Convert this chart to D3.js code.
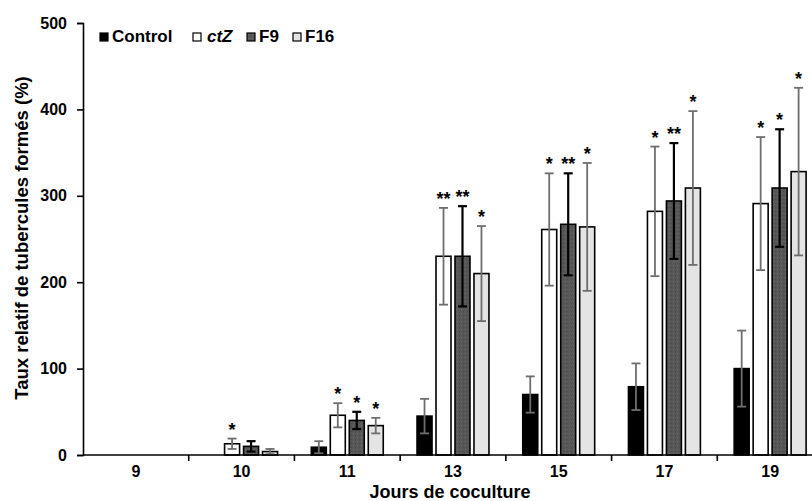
<!DOCTYPE html>
<html lang="fr">

<head>
    <meta charset="UTF-8">
    <title>Taux relatif de tubercules</title>
    <script src="https://d3js.org/d3.v7.min.js"></script>
    <style>
        body { margin: 0; background: #fff; }
        text { font-family: "Liberation Sans", Arial, sans-serif; font-weight: bold; }
    </style>
</head>

<body>
    <script type="text/javascript">

        var days = ["9", "10", "11", "13", "15", "17", "19"];
        var series = ["Control", "ctZ", "F9", "F16"];
        var yTicks = [0, 100, 200, 300, 400, 500];

        var control = [0, 0, 9, 45, 70, 79, 100];
        var controlErr = [0, 0, 7, 20, 21, 27, 44];
        var ctZ = [0, 13, 46, 230, 261, 282, 291];
        var ctZErr = [0, 6, 14, 56, 65, 75, 77];
        var f9 = [0, 10, 40, 230, 267, 294, 309];
        var f9Err = [0, 6, 10, 58, 59, 67, 68];
        var f16 = [0, 4, 34, 210, 264, 309, 328];
        var f16Err = [0, 3, 9, 55, 74, 89, 97];

        var controlSig = ["", "", "", "", "", "", ""];
        var ctZSig = ["", "*", "*", "**", "*", "*", "*"];
        var f9Sig = ["", "", "*", "**", "**", "**", "*"];
        var f16Sig = ["", "", "*", "*", "*", "*", "*"];

        var w = 812;
        var h = 501;

        var fills = { "Control": "#000000", "ctZ": "#ffffff", "F9": "url(#stipple)", "F16": "#e4e4e4" };
        var errColors = { "Control": "#6e6e6e", "ctZ": "#6e6e6e", "F9": "#000000", "F16": "#6e6e6e" };

        // one record per bar
        var values = [control, ctZ, f9, f16];
        var errs = [controlErr, ctZErr, f9Err, f16Err];
        var sigs = [controlSig, ctZSig, f9Sig, f16Sig];
        var bars = [];
        days.forEach(function (day, i) {
            series.forEach(function (s, j) {
                bars.push({ day: day, serie: s, value: values[j][i], err: errs[j][i], sig: sigs[j][i] });
            });
        });

        var svg = d3.select("body")
            .append("svg")
            .attr("width", w)
            .attr("height", h);

        var defs = svg.append("defs");
        var pat = defs.append("pattern")
            .attr("id", "stipple")
            .attr("width", 4)
            .attr("height", 4)
            .attr("patternUnits", "userSpaceOnUse");
        pat.append("rect").attr("width", 4).attr("height", 4).attr("fill", "#575757");
        pat.append("rect").attr("x", 1).attr("y", 1).attr("width", 1).attr("height", 1).attr("fill", "#6c6c6c");
        pat.append("rect").attr("x", 3).attr("y", 3).attr("width", 1).attr("height", 1).attr("fill", "#4a4a4a");

        var x = d3.scaleBand()
            .domain(days)
            .range([83, 823]);

        var xs = d3.scaleBand()
            .domain(series)
            .range([0, x.bandwidth()])
            .paddingInner(0.21)
            .paddingOuter(0.89);

        var y = d3.scaleLinear()
            .domain([0, 500])
            .range([455, 23]);

        // bars
        var g = svg.append("g");
        var shown = bars.filter(function (d) { return d.value > 0; });

        g.selectAll("rect.bar")
            .data(shown)
            .enter()
            .append("rect")
            .attr("class", "bar")
            .attr("x", function (d) { return x(d.day) + xs(d.serie); })
            .attr("y", function (d) { return y(d.value); })
            .attr("width", xs.bandwidth())
            .attr("height", function (d) { return y(0) - y(d.value); })
            .attr("fill", function (d) { return fills[d.serie]; })
            .attr("stroke", "#000")
            .attr("stroke-width", 1.6);

        // error bars
        var eb = g.selectAll("g.err")
            .data(shown)
            .enter()
            .append("g")
            .attr("class", "err")
            .attr("stroke", function (d) { return errColors[d.serie]; })
            .attr("stroke-width", function (d) { return d.serie == "F9" ? 2.2 : 1.8; });

        function cx(d) { return x(d.day) + xs(d.serie) + xs.bandwidth() / 2; }

        eb.append("line")
            .attr("x1", cx).attr("x2", cx)
            .attr("y1", function (d) { return y(d.value - d.err); })
            .attr("y2", function (d) { return y(d.value + d.err); });
        eb.append("line")
            .attr("x1", function (d) { return cx(d) - 4.5; })
            .attr("x2", function (d) { return cx(d) + 4.5; })
            .attr("y1", function (d) { return y(d.value + d.err); })
            .attr("y2", function (d) { return y(d.value + d.err); });
        eb.append("line")
            .attr("x1", function (d) { return cx(d) - 4.5; })
            .attr("x2", function (d) { return cx(d) + 4.5; })
            .attr("y1", function (d) { return y(d.value - d.err); })
            .attr("y2", function (d) { return y(d.value - d.err); });

        // significance stars
        g.selectAll("text.sig")
            .data(shown.filter(function (d) { return d.sig != ""; }))
            .enter()
            .append("text")
            .attr("class", "sig")
            .attr("x", cx)
            .attr("y", function (d) { return y(d.value + d.err) - 3; })
            .attr("text-anchor", "middle")
            .attr("font-size", "18px")
            .text(function (d) { return d.sig; });

        // axes
        var xAxis = svg.append("g")
            .attr("transform", "translate(0," + y(0) + ")");
        xAxis.append("line")
            .attr("x1", 83).attr("x2", w)
            .attr("stroke", "#000").attr("stroke-width", 1.6);
        xAxis.selectAll("line.tick")
            .data(days.slice(1))
            .enter()
            .append("line")
            .attr("x1", function (d) { return x(d); })
            .attr("x2", function (d) { return x(d); })
            .attr("y1", 0).attr("y2", 6)
            .attr("stroke", "#000").attr("stroke-width", 1.6);
        xAxis.selectAll("text")
            .data(days)
            .enter()
            .append("text")
            .attr("x", function (d) { return x(d) + x.bandwidth() / 2; })
            .attr("y", 22)
            .attr("text-anchor", "middle")
            .attr("font-size", "16px")
            .text(function (d) { return d; });

        var yAxis = svg.append("g")
            .attr("transform", "translate(83,0)")
            .call(d3.axisLeft(y).tickValues(yTicks).tickSize(6).tickPadding(10));
        yAxis.select(".domain").attr("stroke-width", 1.6);
        yAxis.selectAll(".tick line").attr("stroke-width", 1.6);
        yAxis.selectAll(".tick text")
            .attr("font-size", "16px")
            .attr("font-family", "Liberation Sans, Arial, sans-serif")
            .attr("font-weight", "bold")
            .attr("fill", "#000");

        svg.append("text")
            .attr("x", 450)
            .attr("y", 498)
            .attr("text-anchor", "middle")
            .attr("font-size", "18px")
            .text("Jours de coculture");

        svg.append("text")
            .attr("transform", "translate(28,238) rotate(-90)")
            .attr("text-anchor", "middle")
            .attr("font-size", "18.5px")
            .text("Taux relatif de tubercules formés (%)");

        // legend
        var legendX = [100, 193, 247, 293];
        var legend = svg.selectAll("g.legend")
            .data(series)
            .enter()
            .append("g")
            .attr("class", "legend")
            .attr("transform", function (d, i) { return "translate(" + legendX[i] + ",33)"; });
        legend.append("rect")
            .attr("width", 8)
            .attr("height", 8)
            .attr("fill", function (d) { return fills[d]; })
            .attr("stroke", "#000")
            .attr("stroke-width", 1.2);
        legend.append("text")
            .attr("x", function (d) { return d == "ctZ" ? 14 : 12; })
            .attr("y", 9)
            .attr("font-size", "17px")
            .attr("font-style", function (d) { return d == "ctZ" ? "italic" : "normal"; })
            .text(function (d) { return d; });

    </script>
</body>

</html>
